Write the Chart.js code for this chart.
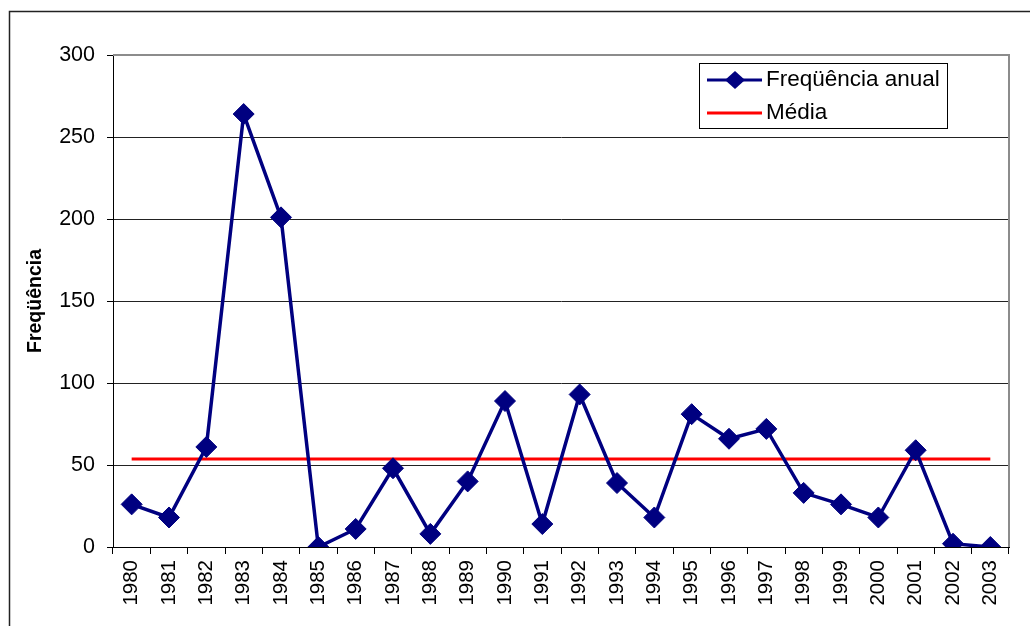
<!DOCTYPE html>
<html>
<head>
<meta charset="utf-8">
<script src="https://cdn.jsdelivr.net/npm/chart.js@4.4.1/dist/chart.umd.min.js"></script>
<style>
    body { margin: 0; background: #fff; }
    #grafico { display: block; }
</style>
</head>
<body>
<canvas id="grafico" width="1030" height="626"></canvas>
<script>
const anos = ['1980', '1981', '1982', '1983', '1984', '1985', '1986', '1987', '1988', '1989', '1990', '1991',
    '1992', '1993', '1994', '1995', '1996', '1997', '1998', '1999', '2000', '2001', '2002', '2003'];
const frequencia = [26, 18, 61, 264, 201, 0, 11, 48, 8, 40, 89, 14, 93, 39, 18, 81, 66, 72, 33, 26, 18, 59, 2, 0];
const media = [53.6, 53.6, 53.6, 53.6, 53.6, 53.6, 53.6, 53.6, 53.6, 53.6, 53.6, 53.6,
    53.6, 53.6, 53.6, 53.6, 53.6, 53.6, 53.6, 53.6, 53.6, 53.6, 53.6, 53.6];
const yTicks = [0, 50, 100, 150, 200, 250, 300];

const FONTE = "'Liberation Sans', Arial, sans-serif";
const AZUL = '#000080';
const VERMELHO = '#FF0000';

// moldura externa + borda cinza da area do grafico
const moldura = {
    id: 'moldura',
    beforeDraw(chart) {
        const ctx = chart.ctx;
        ctx.save();
        ctx.strokeStyle = '#222';
        ctx.lineWidth = 1.5;
        ctx.strokeRect(9.5, 11.5, 1040, 700);
        ctx.restore();
    },
    afterDatasetsDraw(chart) {
        const ctx = chart.ctx;
        const a = chart.chartArea;
        ctx.save();
        ctx.strokeStyle = '#8c8c8c';
        ctx.lineWidth = 2;
        ctx.beginPath();
        ctx.moveTo(a.left, a.top);
        ctx.lineTo(a.right, a.top);
        ctx.lineTo(a.right, a.bottom);
        ctx.stroke();
        ctx.restore();
    }
};

// legenda com caixa, dentro da area do grafico
const legendaCaixa = {
    id: 'legendaCaixa',
    afterDraw(chart) {
        const ctx = chart.ctx;
        const x0 = 699, y0 = 63, w = 248, h = 65;
        ctx.save();
        ctx.fillStyle = '#fff';
        ctx.fillRect(x0, y0, w, h);
        ctx.strokeStyle = '#000';
        ctx.lineWidth = 1;
        ctx.strokeRect(x0 + 0.5, y0 + 0.5, w, h);
        const linhas = [80, 113];
        chart.data.datasets.forEach((ds, i) => {
            const y = linhas[i];
            ctx.strokeStyle = ds.borderColor;
            ctx.lineWidth = 3;
            ctx.beginPath();
            ctx.moveTo(707, y);
            ctx.lineTo(762, y);
            ctx.stroke();
            if (ds.pointRadius > 0) {
                ctx.fillStyle = ds.borderColor;
                ctx.beginPath();
                ctx.moveTo(735 - 10, y);
                ctx.lineTo(735, y - 9);
                ctx.lineTo(735 + 10, y);
                ctx.lineTo(735, y + 9);
                ctx.closePath();
                ctx.fill();
            }
            ctx.fillStyle = '#000';
            ctx.font = '22.5px ' + FONTE;
            ctx.textBaseline = 'middle';
            ctx.textAlign = 'left';
            ctx.fillText(ds.label, 766, y);
        });
        ctx.restore();
    }
};

new Chart(document.getElementById('grafico'), {
    type: 'line',
    data: {
        labels: anos,
        datasets: [{
            label: 'Freqüência anual',
            data: frequencia,
            borderColor: AZUL,
            backgroundColor: AZUL,
            borderWidth: 3.5,
            pointStyle: 'rectRot',
            pointRadius: 10.5,
            pointBorderWidth: 1,
            pointBackgroundColor: AZUL,
            pointBorderColor: AZUL,
            tension: 0,
            fill: false,
        }, {
            label: 'Média',
            data: media,
            borderColor: VERMELHO,
            backgroundColor: VERMELHO,
            borderWidth: 3,
            pointRadius: 0,
            tension: 0,
            fill: false,
        }]
    },
    options: {
        responsive: false,
        animation: false,
        events: [],
        layout: { padding: { top: 55, right: 21, left: 0, bottom: 0 } },
        plugins: {
            legend: { display: false },
            tooltip: { enabled: false }
        },
        scales: {
            x: {
                type: 'category',
                offset: true,
                afterFit(scale) { scale.height = 79; },
                grid: {
                    display: true,
                    offset: true,
                    drawOnChartArea: false,
                    drawTicks: true,
                    tickLength: 7,
                    color: '#000',
                    lineWidth: 1,
                },
                border: { display: true, color: '#000', width: 1 },
                ticks: {
                    minRotation: 90,
                    maxRotation: 90,
                    autoSkip: false,
                    padding: 6,
                    color: '#000',
                    font: { family: FONTE, size: 20.5 }
                }
            },
            y: {
                min: 0,
                max: 300,
                afterFit(scale) { scale.width = 113; },
                afterBuildTicks(scale) { scale.ticks = yTicks.map(v => ({ value: v })); },
                title: {
                    display: true,
                    text: 'Freqüência',
                    color: '#000',
                    padding: { top: 24, bottom: 0 },
                    font: { family: FONTE, size: 19.5, weight: 'bold' }
                },
                grid: {
                    color: ctx => ctx.tick && ctx.tick.value === 300 ? 'rgba(0,0,0,0)' : '#222',
                    tickColor: '#000',
                    lineWidth: 1,
                    drawTicks: true,
                    tickLength: 6,
                },
                border: { display: true, color: '#000', width: 1 },
                ticks: {
                    padding: 12,
                    color: '#000',
                    font: { family: FONTE, size: 21.5 }
                }
            }
        }
    },
    plugins: [moldura, legendaCaixa]
});
</script>
</body>
</html>
